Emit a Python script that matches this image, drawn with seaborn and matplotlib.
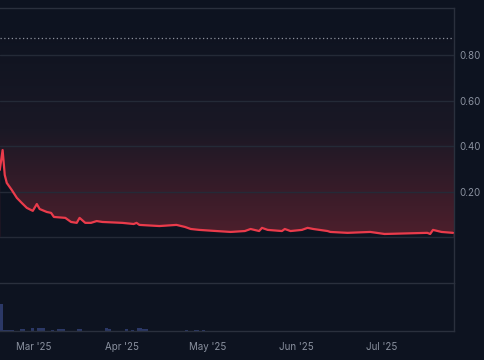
import numpy as np
import pandas as pd
import matplotlib
matplotlib.use("Agg")
import matplotlib.pyplot as plt
import matplotlib.dates as mdates
from matplotlib.colors import LinearSegmentedColormap
import seaborn as sns

# === Data ===
price_dates = [
    "2025-02-17 00:00", "2025-02-18 00:00", "2025-02-18 18:00", "2025-02-19 11:00",
    "2025-02-21 05:00", "2025-02-23 00:00", "2025-02-24 17:00", "2025-02-26 12:00",
    "2025-02-28 14:00", "2025-03-02 00:00", "2025-03-03 00:00", "2025-03-05 12:00",
    "2025-03-07 00:00", "2025-03-08 00:00", "2025-03-12 00:00", "2025-03-14 00:00",
    "2025-03-16 00:00", "2025-03-17 00:00", "2025-03-19 00:00", "2025-03-21 00:00",
    "2025-03-23 00:00", "2025-03-25 00:00", "2025-04-01 00:00", "2025-04-05 00:00",
    "2025-04-06 00:00", "2025-04-07 00:00", "2025-04-14 00:00", "2025-04-20 00:00",
    "2025-04-23 00:00", "2025-04-25 00:00", "2025-04-28 00:00", "2025-05-04 00:00",
    "2025-05-09 00:00", "2025-05-14 00:00", "2025-05-16 00:00", "2025-05-19 00:00",
    "2025-05-20 00:00", "2025-05-22 00:00", "2025-05-27 00:00", "2025-05-28 00:00",
    "2025-05-30 00:00", "2025-06-03 00:00", "2025-06-05 00:00", "2025-06-07 00:00",
    "2025-06-12 00:00", "2025-06-13 00:00", "2025-06-19 00:00", "2025-06-27 00:00",
    "2025-07-02 00:00", "2025-07-17 00:00", "2025-07-18 00:00", "2025-07-19 00:00",
    "2025-07-22 00:00", "2025-07-26 00:00",
]
price_values = [
    0.295, 0.383, 0.273, 0.238, 0.207, 0.172, 0.150, 0.128,
    0.115, 0.145, 0.123, 0.110, 0.106, 0.088, 0.084, 0.066,
    0.062, 0.084, 0.062, 0.062, 0.070, 0.066, 0.062, 0.057,
    0.062, 0.053, 0.048, 0.053, 0.044, 0.035, 0.031, 0.026,
    0.022, 0.026, 0.035, 0.026, 0.040, 0.031, 0.026, 0.035,
    0.026, 0.031, 0.040, 0.035, 0.026, 0.022, 0.018, 0.022,
    0.013, 0.018, 0.013, 0.031, 0.022, 0.018,
]
ref_level = 0.875

vol_dates = [
    "2025-02-17", "2025-02-18", "2025-02-19", "2025-02-20", "2025-02-21",
    "2025-02-24", "2025-02-25", "2025-02-28", "2025-03-02", "2025-03-03",
    "2025-03-04", "2025-03-07", "2025-03-09", "2025-03-10", "2025-03-11",
    "2025-03-16", "2025-03-17", "2025-03-26", "2025-03-27", "2025-04-02",
    "2025-04-04", "2025-04-06", "2025-04-07", "2025-04-08", "2025-04-09",
    "2025-04-23", "2025-04-26", "2025-04-27", "2025-04-29",
]
vol_values = [
    27, 1, 1, 1, 1,
    2, 2, 2.5, 3, 3,
    3, 1, 2, 2, 1.5,
    2, 1.5, 3, 2, 2,
    1, 3, 2.5, 2, 2,
    1, 1, 1, 1,
]

month_ticks = ["2025-03-01", "2025-04-01", "2025-05-01", "2025-06-01", "2025-07-01"]
price_ticks = [0.2, 0.4, 0.6, 0.8]
price_ticklabels = ["0.20", "0.40", "0.60", "0.80"]

# === Style ===
BG = "#0d1320"
GRID = "#242a37"
TEXT = "#8a919f"
RED = "#ea3b4b"

sns.set_theme(style="dark")
plt.rcParams["font.family"] = ["Inter", "DejaVu Sans"]

price_df = pd.DataFrame({"date": pd.to_datetime(price_dates), "price": price_values})
vol_df = pd.DataFrame({"date": pd.to_datetime(vol_dates), "volume": vol_values})

x_left = pd.Timestamp("2025-02-17 02:00")
x_right = pd.Timestamp("2025-07-26 09:00")
y_low, y_high = -0.203, 1.009

fig = plt.figure(figsize=(4.85, 3.60), dpi=100, facecolor=BG)
ax = fig.add_axes([0, 0.2139, 0.9361, 0.7639], facecolor=BG)
axv = fig.add_axes([0, 0.0806, 0.9361, 0.1333], facecolor=BG, sharex=ax)

# gradient above the line
cmap = LinearSegmentedColormap.from_list("grad", [BG, "#1a1825", "#4e1f2c"])
grad = np.linspace(0, 1, 256).reshape(-1, 1)
x0, x1 = mdates.date2num(x_left), mdates.date2num(x_right)
ax.imshow(grad, extent=[x0, x1, 0, 0.95], origin="upper", cmap=cmap,
          aspect="auto", zorder=0)
ax.fill_between(price_df["date"], price_df["price"], y_low, color=BG, lw=0, zorder=1)

sns.lineplot(data=price_df, x="date", y="price", ax=ax, color=RED, lw=1.6, zorder=4)
ax.axhline(ref_level, color="#8c919c", lw=0.9, ls=(0, (1, 2)), zorder=3)

ax.set_xlim(x_left, x_right)
ax.set_ylim(y_low, y_high)
ax.set_yticks([0.0] + price_ticks)
ax.set_yticklabels([""] + price_ticklabels)
ax.yaxis.tick_right()
ax.grid(axis="y", color=GRID, lw=1)
ax.grid(axis="x", visible=False)
ax.set_axisbelow(False)
for gl in ax.get_ygridlines():
    gl.set_zorder(2)
ax.tick_params(axis="y", colors=TEXT, labelsize=7, length=0, pad=4)
ax.tick_params(axis="x", labelbottom=False, length=0)
ax.set_xlabel("")
ax.set_ylabel("")
for side in ["left", "bottom"]:
    ax.spines[side].set_visible(False)
for side in ["top", "right"]:
    ax.spines[side].set_color("#2a303d")
    ax.spines[side].set_linewidth(1)

# volume panel
axv.bar(vol_df["date"], vol_df["volume"], width=1.0, color="#2b3866",
        align="edge", edgecolor="none", linewidth=0)
axv.set_ylim(0, 48)
axv.set_yticks([])
axv.set_xticks(pd.to_datetime(month_ticks))
axv.xaxis.set_major_formatter(mdates.DateFormatter("%b '%y"))
axv.tick_params(axis="x", colors=TEXT, labelsize=7, length=0, pad=8)
axv.set_xlabel("")
axv.set_ylabel("")
axv.grid(False)
axv.spines["left"].set_visible(False)
for side in ["top", "right", "bottom"]:
    axv.spines[side].set_color("#2a303d")
    axv.spines[side].set_linewidth(1)
axv.set_xlim(x_left, x_right)

fig.savefig("out.png", dpi=100, facecolor=BG)
